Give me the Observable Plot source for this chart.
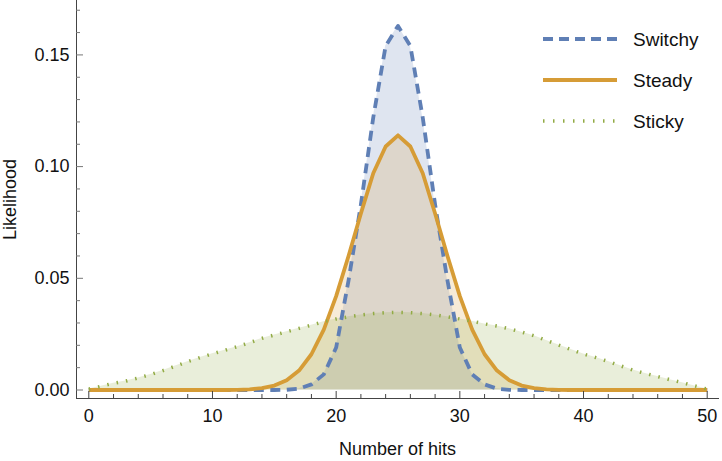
<!DOCTYPE html>
<html>
<head>
<meta charset="utf-8">
<script src="https://cdn.jsdelivr.net/npm/d3@7"></script>
<script src="https://cdn.jsdelivr.net/npm/@observablehq/plot@0.6"></script>
<style>
  html, body { margin: 0; padding: 0; background: #fff; }
  #wrap { position: relative; width: 722px; height: 461px; font-family: "Liberation Sans", Arial, sans-serif; }
  #legend { position: absolute; left: 0; top: 0; pointer-events: none; }
</style>
</head>
<body>
<div id="wrap"></div>
<script>
// ---- data ----
const hits = [0,1,2,3,4,5,6,7,8,9,10,11,12,13,14,15,16,17,18,19,20,21,22,23,24,25,
              26,27,28,29,30,31,32,33,34,35,36,37,38,39,40,41,42,43,44,45,46,47,48,49,50];

const switchy = [0,0,0,0,0,0,0,0,0,0,0,0,0,0,0,0,
  0.0001,0.0006,0.0025,0.007,0.019,0.049,0.083,0.122,0.154,0.163,
  0.154,0.122,0.083,0.049,0.019,0.007,0.0025,0.0006,0.0001,
  0,0,0,0,0,0,0,0,0,0,0,0,0,0,0,0];

const steady = [0,0,0,0,0,0,0,0,0,0,0,0,
  0.0001,0.0003,0.0008,0.002,0.0044,0.0087,0.016,0.027,0.042,0.060,0.079,0.097,0.109,0.114,
  0.109,0.097,0.079,0.060,0.042,0.027,0.016,0.0087,0.0044,0.002,0.0008,0.0003,0.0001,
  0,0,0,0,0,0,0,0,0,0,0,0];

const sticky = [0.0004,0.0017,0.003,0.004,0.0054,0.0069,0.0087,0.0107,0.0127,0.0145,
  0.0162,0.0178,0.0194,0.0212,0.0231,0.0246,0.0261,0.0276,0.029,0.0306,
  0.0318,0.0328,0.0336,0.0342,0.0346,0.0348,0.0346,0.0342,0.0336,0.0328,
  0.0318,0.0308,0.0296,0.0286,0.0274,0.0259,0.0243,0.0222,0.0201,0.0181,
  0.0161,0.0145,0.0128,0.0108,0.0089,0.0074,0.006,0.0046,0.0033,0.0018,0.0004];

const seriesNames = ["Switchy", "Steady", "Sticky"];
const seriesValues = [switchy, steady, sticky];
const seriesColors = ["#5F7FB5", "#D69C36", "#92AB45"];
const seriesDash = ["10,6.5", null, "1.5,8"];
const legendDash = ["10,6", null, "1.5,8.5"];

const xMajor = [0, 10, 20, 30, 40, 50];
const xMinor = [2,4,6,8,12,14,16,18,22,24,26,28,32,34,36,38,42,44,46,48];
const yMajor = [0, 0.05, 0.10, 0.15];
const yMinor = [0.01,0.02,0.03,0.04,0.06,0.07,0.08,0.09,0.11,0.12,0.13,0.14,0.16,0.17];

const xLabel = "Number of hits";
const yLabel = "Likelihood";

// ---- build ----
const W = 722, H = 461;
const mL = 76, mR = 4, mT = 0, mB = 63;
const frameH = H - mT - mB, frameW = W - mL - mR;
const axisColor = "#444";
const FS = 18;

const tables = seriesNames.map((name, i) =>
  hits.map((h, j) => ({hits: h, value: seriesValues[i][j], series: name})));

const marks = [];
tables.forEach((t, i) => {
  marks.push(Plot.areaY(t, {x: "hits", y: "value", fill: seriesColors[i], fillOpacity: 0.2}));
});
tables.forEach((t, i) => {
  marks.push(Plot.lineY(t, {
    x: "hits", y: "value", stroke: seriesColors[i],
    strokeWidth: i === 2 ? 3.5 : 3.8,
    strokeDasharray: seriesDash[i],
    strokeLinecap: "butt", strokeLinejoin: "round"
  }));
});
marks.push(
  Plot.frame({anchor: "bottom", stroke: axisColor}),
  Plot.frame({anchor: "left", stroke: axisColor}),
  Plot.tickX(xMajor, {x: d => d, stroke: axisColor, insetTop: frameH - 7}),
  Plot.tickX(xMinor, {x: d => d, stroke: axisColor, insetTop: frameH - 4}),
  Plot.tickY(yMajor, {y: d => d, stroke: "#777", insetRight: frameW - 7}),
  Plot.tickY(yMinor, {y: d => d, stroke: "#777", insetRight: frameW - 4}),
  Plot.axisX(xMajor, {tickSize: 0, tickPadding: 11, label: null, fill: "#111", fontSize: FS}),
  Plot.axisY(yMajor, {tickSize: 0, tickPadding: 7, tickFormat: d3.format(".2f"), label: null, fill: "#111", fontSize: FS}),
  Plot.text([xLabel], {text: d => d, frameAnchor: "bottom", textAnchor: "middle", lineAnchor: "middle", dy: 51, fill: "#111", fontSize: FS}),
  Plot.text([yLabel], {text: d => d, frameAnchor: "left", textAnchor: "middle", lineAnchor: "middle", rotate: -90, dx: -66, fill: "#111", fontSize: FS})
);

const chart = Plot.plot({
  width: W, height: H,
  marginLeft: mL, marginRight: mR, marginTop: mT, marginBottom: mB,
  style: {fontFamily: "'Liberation Sans', Arial, sans-serif", fontSize: FS + "px", background: "white", overflow: "visible"},
  x: {domain: [0, 50], range: [88.3, 706.7]},
  y: {domain: [0, 0.174], range: [389.5, 0.8]},
  marks
});
document.getElementById("wrap").appendChild(chart);

// ---- legend overlay ----
const legendX = 543, legendLen = 74, legendTextX = 633;
const legendY = [39, 80, 121];
const lg = d3.select("#wrap").append("svg")
  .attr("id", "legend").attr("width", W).attr("height", H);
seriesNames.forEach((name, i) => {
  lg.append("line")
    .attr("x1", legendX).attr("x2", legendX + legendLen)
    .attr("y1", legendY[i]).attr("y2", legendY[i])
    .attr("stroke", seriesColors[i])
    .attr("stroke-width", i === 2 ? 3.5 : 4)
    .attr("stroke-dasharray", legendDash[i]);
  lg.append("text")
    .attr("x", legendTextX).attr("y", legendY[i])
    .attr("dy", "0.36em")
    .attr("font-family", "'Liberation Sans', Arial, sans-serif")
    .attr("font-size", 19).attr("fill", "#111")
    .text(name);
});
</script>
</body>
</html>
